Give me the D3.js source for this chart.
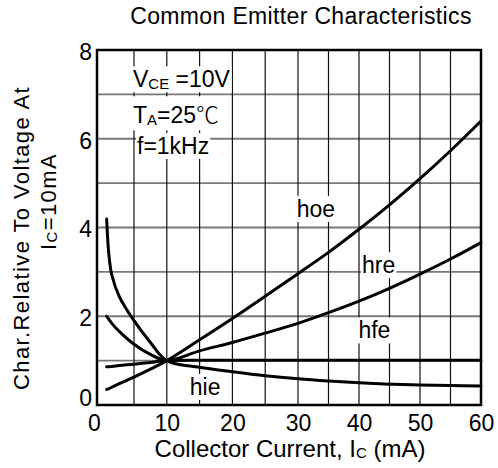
<!DOCTYPE html>
<html><head><meta charset="utf-8">
<script src="https://cdn.jsdelivr.net/npm/d3@7"></script>
<style>
body{margin:0;background:#fff}
svg{display:block}
text{font-family:"Liberation Sans",Arial,Helvetica,sans-serif;fill:#000}
</style>
</head><body>
<svg id="c" width="498" height="468"></svg>
<script>
// ---- data ----
const current = [1.3, 1.6, 2, 3, 5, 7.5, 10, 15, 20, 25, 30, 35, 40, 45, 50, 55, 60]; // mA
const hoe = [0.35, 0.37, 0.40, 0.48, 0.63, 0.81, 1.00, 1.47, 1.95, 2.45, 2.96, 3.44, 3.96, 4.51, 5.10, 5.73, 6.40];
const hre = [2.00, 1.93, 1.84, 1.66, 1.37, 1.14, 1.00, 1.22, 1.41, 1.62, 1.84, 2.08, 2.34, 2.63, 2.95, 3.29, 3.66];
const hfe = [0.86, 0.86, 0.87, 0.89, 0.92, 0.96, 1.00, 1.01, 1.01, 1.01, 1.01, 1.01, 1.01, 1.01, 1.01, 1.01, 1.01];
const hie = [4.19, 3.40, 2.93, 2.45, 1.90, 1.41, 1.00, 0.85, 0.75, 0.66, 0.59, 0.54, 0.50, 0.47, 0.45, 0.44, 0.43];
const seriesNames = ["hoe", "hre", "hfe", "hie"];
const seriesValues = [hoe, hre, hfe, hie];
// curve label anchors in data units (Ic mA, relative value)
const labelNames = ["hoe", "hre", "hfe", "hie"];
const labelX = [29.8, 40.5, 39.9, 13.5];
const labelY = [4.24, 2.97, 1.50, 0.225];
const xTickValues = [0, 10, 20, 30, 40, 50, 60];
const yTickValues = [0, 2, 4, 6, 8];
const xGridValues = [5, 10, 15, 20, 25, 30, 35, 40, 45, 50, 55];
const yGridValues = [1, 2, 3, 4, 5, 6, 7];

// ---- layout ----
const svg = d3.select("#c");
const x = d3.scaleLinear().domain([0, 5, 30, 60]).range([97, 134, 298, 481]);
const y = d3.scaleLinear().domain([0, 8]).range([405, 50]);
const [x0, x1] = [x(0), x(60)];
const [y0, y1] = [y(0), y(8)];

// grid
svg.append("g").selectAll("line").data(yGridValues).join("line")
  .attr("x1", x0).attr("x2", x1).attr("y1", d => y(d)).attr("y2", d => y(d))
  .attr("stroke", "#787878").attr("stroke-width", 1.8);
svg.append("g").selectAll("line").data(xGridValues).join("line")
  .attr("x1", d => x(d)).attr("x2", d => x(d)).attr("y1", y1).attr("y2", y0)
  .attr("stroke", "#111").attr("stroke-width", 1.2);

// helper: text with white backing
const labelLayer = svg.append("g");
function boxed(node, pad) {
  const b = node.getBBox();
  labelLayer.insert("rect", ":first-child")
    .attr("x", b.x - pad).attr("y", b.y - pad + 1)
    .attr("width", b.width + 2 * pad).attr("height", b.height + 2 * pad - 2)
    .attr("fill", "#fff");
}

// condition block
const cond = [
  {main: "V", sub: "CE", rest: " =10V", x: 133, y: 87.3},
  {main: "T", sub: "A", rest: "=25", deg: "\u2103", x: 133, y: 123.3},
  {main: "f=1kHz", x: 137, y: 154}
];
cond.forEach(c => {
  const t = labelLayer.append("text").attr("x", c.x).attr("y", c.y).attr("font-size", 23);
  t.append("tspan").text(c.main);
  if (c.sub) {
    t.append("tspan").attr("font-size", 15).attr("dy", 2).text(c.sub);
    t.append("tspan").attr("dy", -2).text(c.rest);
  }
  if (c.deg) t.append("tspan").style("font-family", "'Noto Sans CJK SC','DejaVu Sans',sans-serif").attr("font-weight", 300).text(c.deg);
  boxed(t.node(), 1);
});

// curve labels
labelNames.forEach((n, i) => {
  const t = labelLayer.append("text").attr("x", x(labelX[i])).attr("y", y(labelY[i]))
    .attr("font-size", 23).text(n);
  boxed(t.node(), 1);
});

// curves
const line = d3.line().x(d => x(d[0])).y(d => y(d[1])).curve(d3.curveCatmullRom.alpha(0.5));
svg.append("g").selectAll("path").data(seriesValues).join("path")
  .attr("d", vals => line(current.map((c, i) => [c, vals[i]])))
  .attr("fill", "none").attr("stroke", "#000").attr("stroke-width", 3)
  .attr("stroke-linejoin", "round").attr("stroke-linecap", "round");

// frame
svg.append("rect").attr("x", x0).attr("y", y1).attr("width", x1 - x0).attr("height", y0 - y1)
  .attr("fill", "none").attr("stroke", "#000").attr("stroke-width", 2.5);

// axes
const xAxis = svg.append("g").attr("transform", `translate(0,${y0})`)
  .call(d3.axisBottom(x).tickValues(xTickValues).tickSize(0).tickPadding(10).tickFormat(d3.format("d")));
xAxis.select(".domain").remove();
xAxis.selectAll("text").attr("font-size", 23).attr("font-family", null).attr("dx", d => d === 0 ? -3 : 0);

const yAxis = svg.append("g").attr("transform", `translate(${x0},0)`)
  .call(d3.axisLeft(y).tickValues(yTickValues).tickSize(0).tickPadding(5).tickFormat(d3.format("d")));
yAxis.select(".domain").remove();
yAxis.selectAll("text").attr("font-size", 23).attr("font-family", null)
  .attr("transform", d => `translate(0,${d === 0 ? -7 : 2})`);

// titles
svg.append("text").attr("x", 301).attr("y", 24).attr("text-anchor", "middle")
  .attr("font-size", 23).style("letter-spacing", "0.35px").text("Common Emitter Characteristics");

const xt = svg.append("text").attr("x", 290).attr("y", 456.7).attr("text-anchor", "middle").attr("font-size", 24);
xt.append("tspan").text("Collector Current, I");
xt.append("tspan").attr("font-size", 15).attr("dy", 1).text("C");
xt.append("tspan").attr("dy", -1).text(" (mA)");

svg.append("text").attr("transform", "translate(29,238) rotate(-90)").attr("text-anchor", "middle")
  .attr("font-size", 22).style("letter-spacing", "1.4px").text("Char.Relative To Voltage At");
const yt2 = svg.append("text").attr("transform", "translate(56,201.5) rotate(-90)").attr("text-anchor", "middle")
  .attr("font-size", 22).style("letter-spacing", "1.4px");
yt2.append("tspan").text("I");
yt2.append("tspan").attr("font-size", 15).attr("dy", 1).text("C");
yt2.append("tspan").attr("dy", -1).text("=10mA");
</script>
</body></html>
